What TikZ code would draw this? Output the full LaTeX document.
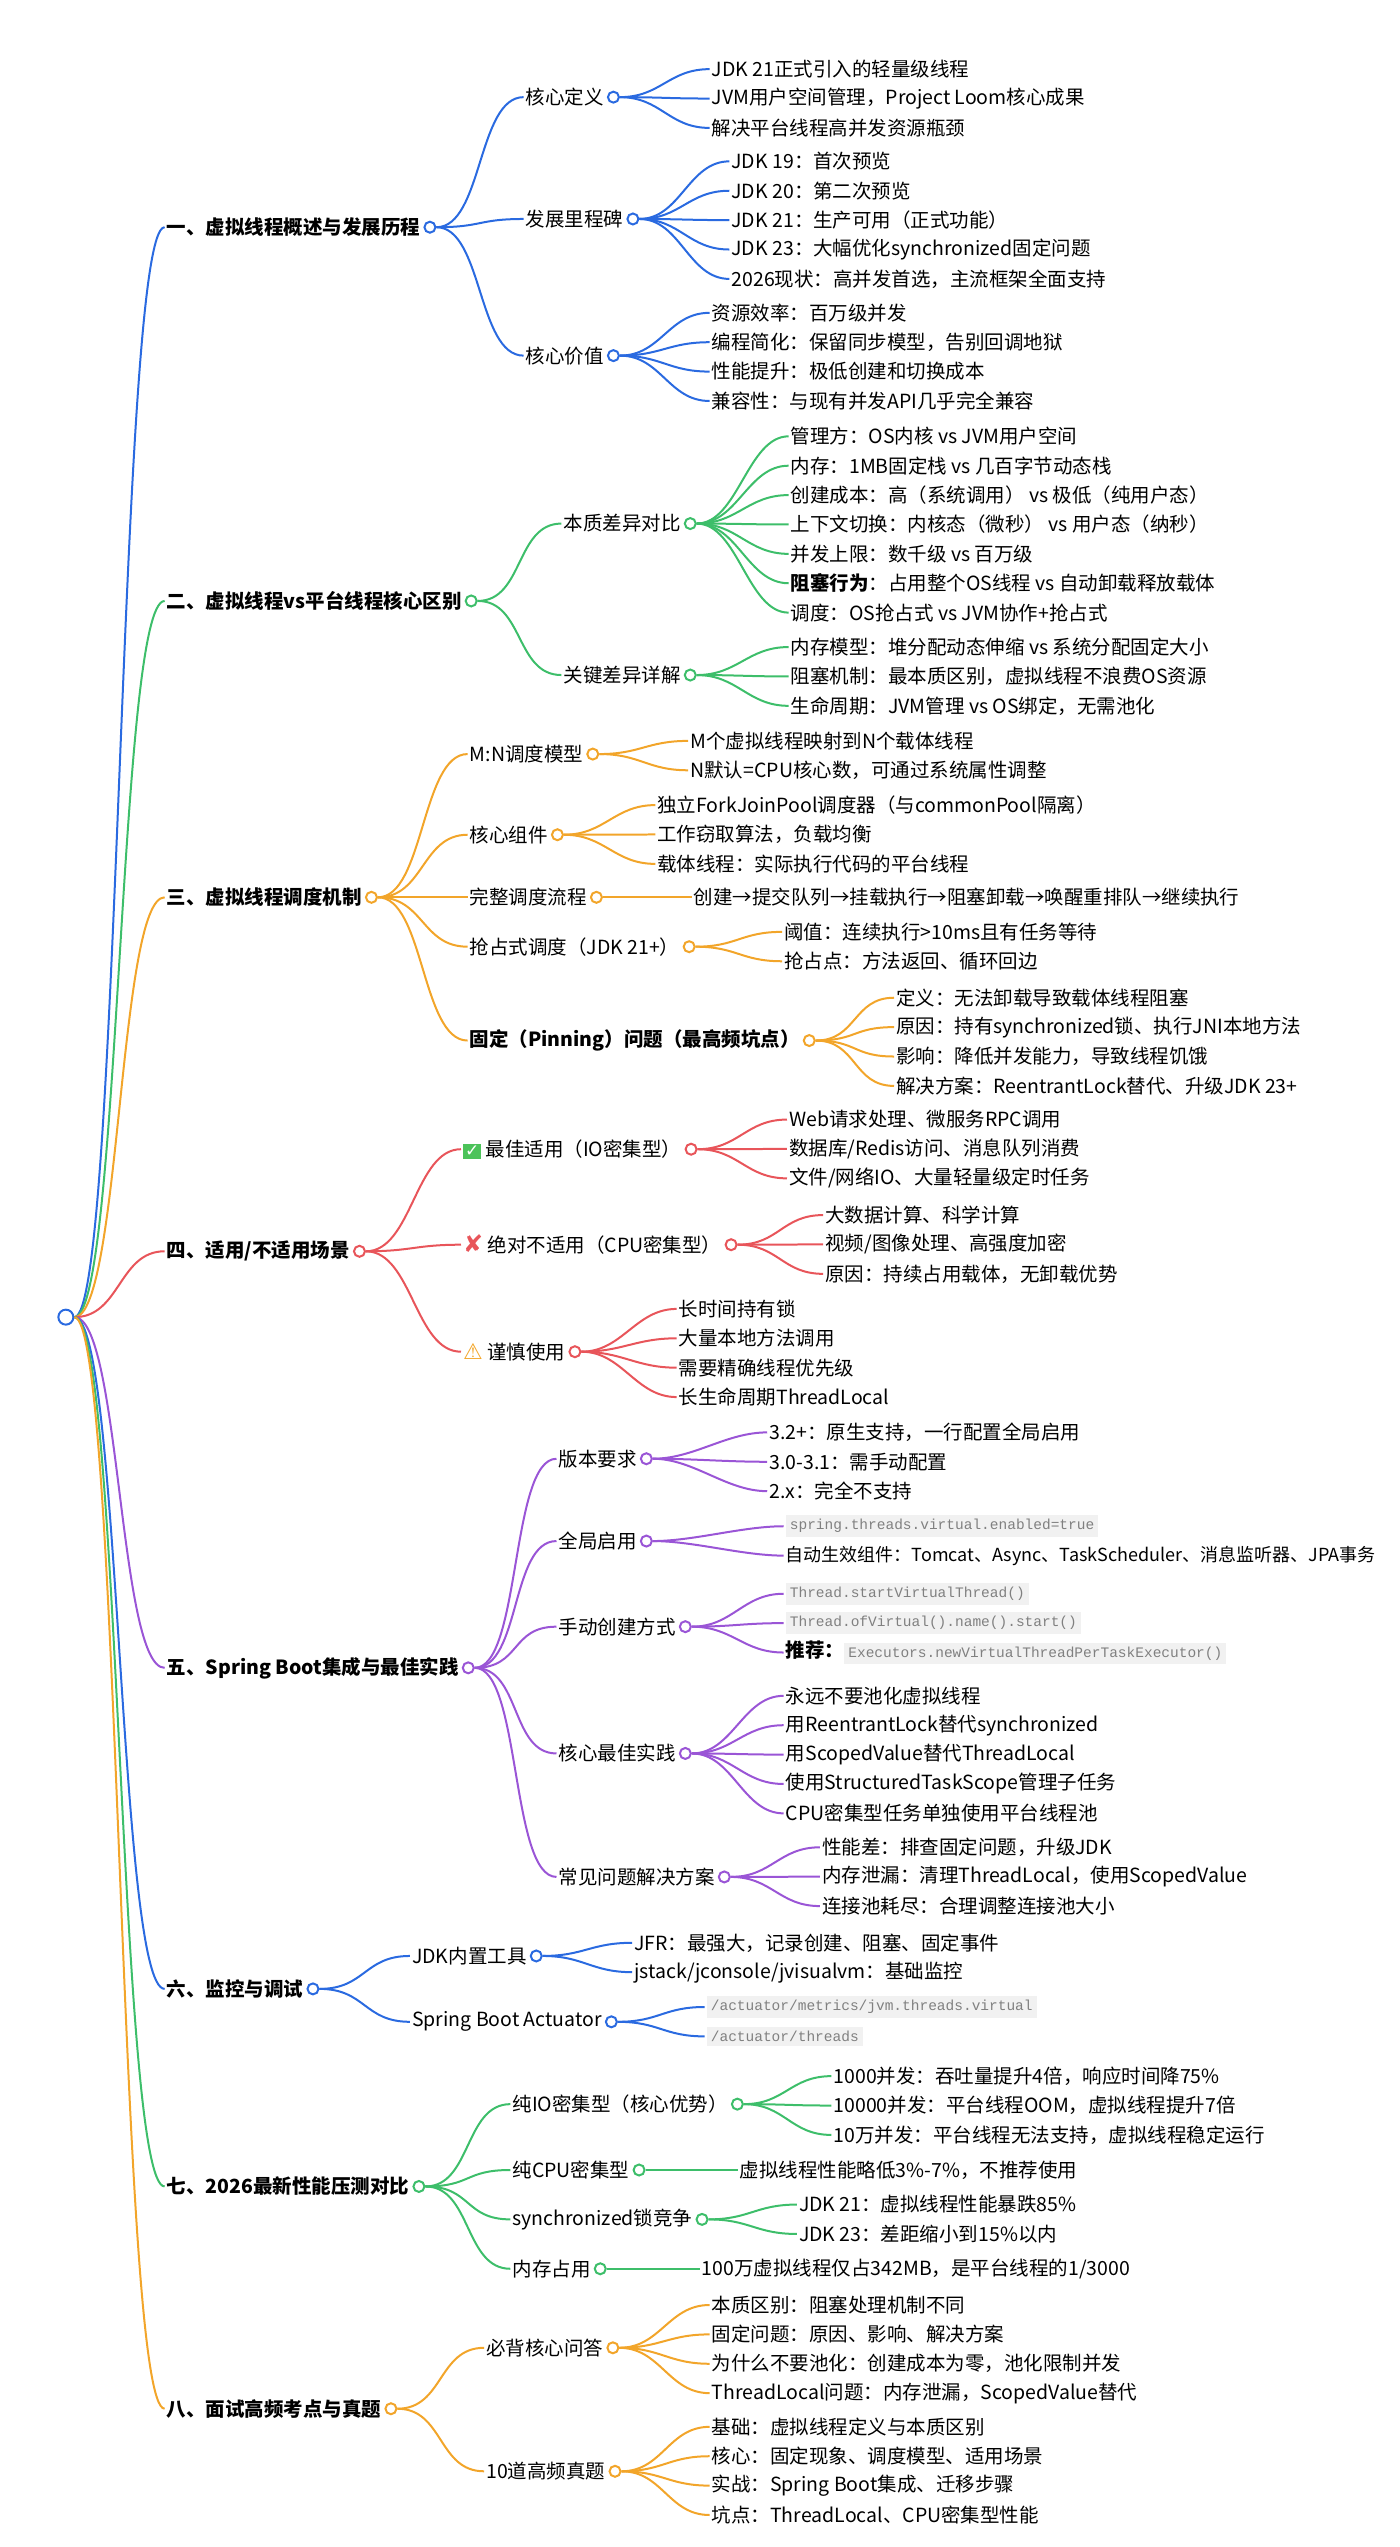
\documentclass[tikz,border=0pt]{standalone}
\usepackage{fontspec}
\setmainfont{Noto Sans CJK SC}
\newfontfamily\dejavu{DejaVu Sans}
\newfontfamily\codefont{Liberation Mono}
\usetikzlibrary{positioning}
\definecolor{mBlue}{HTML}{2A6AE0}
\definecolor{mGreen}{HTML}{3DBE6A}
\definecolor{mOrange}{HTML}{F2A52A}
\definecolor{mRed}{HTML}{E8555A}
\definecolor{mPurple}{HTML}{9A55D6}
\definecolor{codebg}{HTML}{F1F1F1}
\definecolor{okgreen}{HTML}{4CC35A}
\colorlet{cur}{mBlue}
\newcommand\code[1]{{\setlength{\fboxsep}{4bp}\colorbox{codebg}{\codefont\fontsize{14.5bp}{16bp}\selectfont\textcolor{gray}{#1}}}}
\newcommand\okicon{{\setlength{\fboxsep}{2bp}\colorbox{okgreen}{\dejavu\fontsize{17bp}{18bp}\selectfont\textcolor{white}{✓}}}}
\newcommand\noicon{{\dejavu\fontsize{24bp}{24bp}\selectfont\textcolor{mRed}{\textbf{✘}}}}
\newcommand\warnicon{{\dejavu\fontsize{22bp}{22bp}\selectfont\textcolor{mOrange}{⚠}}}
% leaves hanging off one dot: parent, x, first y, texts
\newcommand\leaves[4]{%
  \foreach \t [count=\i] in {#4}{
    \node (#1-\i) [leaf] at (#2,{#3+(\i-1)*17.85}) {\t};
    \draw [link] (#1.east) .. controls +(25,0) and +(-25,0) .. (#1-\i.west);
  }}
% one sub topic: name, x, y, text, parent dot
\newcommand\topic[5]{%
  \node (#1) [leaf] at (#2,#3) {#4};
  \node (o#1) [dot, right=1bp of #1] {};
  \draw [link] (#5.east) .. controls +(28,0) and +(-28,0) .. (#1.west);}
\begin{document}
\begin{tikzpicture}
  [
    x=1.6471bp, y=-1.6471bp,
    every node/.style={font=\fontsize{19.5bp}{24bp}\selectfont},
    leaf/.style={anchor=west, inner sep=2bp},
    sect/.style={anchor=west, inner sep=2bp, font=\fontsize{19.5bp}{24bp}\selectfont\bfseries},
    dot/.style={draw=cur, circle, fill=white, line width=2bp, minimum size=11bp, inner sep=0pt},
    link/.style={draw=cur, line width=2bp},
    trunk/.style={link, to path={.. controls +(28,0) and +(-28,0) .. (\tikztotarget)}}
  ]
  \useasboundingbox (0,0) rectangle (850,1547);
  \node (root) [dot, draw=mBlue, minimum size=15bp] at (40,800) {};

  % one
  \colorlet{cur}{mBlue}
  \node (s1) [sect] at (100,138) {一、虚拟线程概述与发展历程};
  \node (o1) [dot, right=1bp of s1] {};
  \draw [trunk] (root.east) to (s1.west);
  \topic{a1}{318}{59}{核心定义}{o1}
  \topic{a2}{318}{133}{发展里程碑}{o1}
  \topic{a3}{318}{216}{核心价值}{o1}
  \leaves{oa1}{431}{42}{JDK 21正式引入的轻量级线程, JVM用户空间管理，Project Loom核心成果, 解决平台线程高并发资源瓶颈}
  \leaves{oa2}{443}{98}{JDK 19：首次预览, JDK 20：第二次预览, JDK 21：生产可用（正式功能）, JDK 23：大幅优化synchronized固定问题, 2026现状：高并发首选，主流框架全面支持}
  \leaves{oa3}{431}{190}{资源效率：百万级并发, 编程简化：保留同步模型，告别回调地狱, 性能提升：极低创建和切换成本, 兼容性：与现有并发API几乎完全兼容}

  % two
  \colorlet{cur}{mGreen}
  \node (s2) [sect] at (100,365) {二、虚拟线程vs平台线程核心区别};
  \node (o2) [dot, right=1bp of s2] {};
  \draw [trunk] (root.east) to (s2.west);
  \topic{b1}{341}{318}{本质差异对比}{o2}
  \topic{b2}{341}{410}{关键差异详解}{o2}
  \leaves{ob1}{479}{265}{管理方：OS内核 vs JVM用户空间, 内存：1MB固定栈 vs 几百字节动态栈, 创建成本：高（系统调用） vs 极低（纯用户态）, 上下文切换：内核态（微秒） vs 用户态（纳秒）, 并发上限：数千级 vs 百万级, {\textbf{阻塞行为}：占用整个OS线程 vs 自动卸载释放载体}, 调度：OS抢占式 vs JVM协作+抢占式}
  \leaves{ob2}{479}{393}{内存模型：堆分配动态伸缩 vs 系统分配固定大小, 阻塞机制：最本质区别，虚拟线程不浪费OS资源, 生命周期：JVM管理 vs OS绑定，无需池化}

  % three
  \colorlet{cur}{mOrange}
  \node (s3) [sect] at (100,545) {三、虚拟线程调度机制};
  \node (o3) [dot, right=1bp of s3] {};
  \draw [trunk] (root.east) to (s3.west);
  \topic{c1}{284}{458}{M:N调度模型}{o3}
  \topic{c2}{284}{507}{核心组件}{o3}
  \topic{c3}{284}{545}{完整调度流程}{o3}
  \topic{c4}{284}{575}{抢占式调度（JDK 21+）}{o3}
  \node (c5) [sect] at (284,632) {固定（Pinning）问题（最高频坑点）};
  \node (oc5) [dot, right=1bp of c5] {};
  \draw [trunk] (o3.east) to (c5.west);
  \leaves{oc1}{418}{450}{M个虚拟线程映射到N个载体线程, N默认=CPU核心数，可通过系统属性调整}
  \leaves{oc2}{398}{489}{独立ForkJoinPool调度器（与commonPool隔离）, 工作窃取算法，负载均衡, 载体线程：实际执行代码的平台线程}
  \leaves{oc3}{420}{545}{创建→提交队列→挂载执行→阻塞卸载→唤醒重排队→继续执行}
  \leaves{oc4}{475}{566}{阈值：连续执行>10ms且有任务等待, 抢占点：方法返回、循环回边}
  \leaves{oc5}{543}{606}{定义：无法卸载导致载体线程阻塞, 原因：持有synchronized锁、执行JNI本地方法, 影响：降低并发能力，导致线程饥饿, 解决方案：ReentrantLock替代、升级JDK 23+}

  % four
  \colorlet{cur}{mRed}
  \node (s4) [sect] at (100,760) {四、适用/不适用场景};
  \node (o4) [dot, right=1bp of s4] {};
  \draw [trunk] (root.east) to (s4.west);
  \topic{d1}{280}{698}{\okicon\ 最佳适用（IO密集型）}{o4}
  \topic{d2}{280}{756}{\noicon\ 绝对不适用（CPU密集型）}{o4}
  \topic{d3}{280}{821}{\warnicon\ 谨慎使用}{o4}
  \leaves{od1}{478}{680}{Web请求处理、微服务RPC调用, 数据库/Redis访问、消息队列消费, 文件/网络IO、大量轻量级定时任务}
  \leaves{od2}{500}{738}{大数据计算、科学计算, 视频/图像处理、高强度加密, 原因：持续占用载体，无卸载优势}
  \leaves{od3}{411}{795}{长时间持有锁, 大量本地方法调用, 需要精确线程优先级, 长生命周期ThreadLocal}

  % five
  \colorlet{cur}{mPurple}
  \node (s5) [sect] at (100,1013) {五、Spring Boot集成与最佳实践};
  \node (o5) [dot, right=1bp of s5] {};
  \draw [trunk] (root.east) to (s5.west);
  \topic{e1}{338}{886}{版本要求}{o5}
  \topic{e2}{338}{936}{全局启用}{o5}
  \topic{e3}{338}{988}{手动创建方式}{o5}
  \topic{e4}{338}{1065}{核心最佳实践}{o5}
  \topic{e5}{338}{1140}{常见问题解决方案}{o5}
  \leaves{oe1}{466}{870}{3.2+：原生支持，一行配置全局启用, 3.0-3.1：需手动配置, 2.x：完全不支持}
  \leaves{oe2}{476}{927}{\code{spring.threads.virtual.enabled=true}, {\fontsize{18bp}{24bp}\selectfont 自动生效组件：Tomcat、Async、TaskScheduler、消息监听器、JPA事务}}
  \leaves{oe3}{476}{968}{\code{Thread.startVirtualThread()}, \code{Thread.ofVirtual().name().start()}, {\textbf{推荐：}\code{Executors.newVirtualThreadPerTaskExecutor()}}}
  \leaves{oe4}{476}{1030}{永远不要池化虚拟线程, 用ReentrantLock替代synchronized, 用ScopedValue替代ThreadLocal, 使用StructuredTaskScope管理子任务, CPU密集型任务单独使用平台线程池}
  \leaves{oe5}{498}{1122}{性能差：排查固定问题，升级JDK, 内存泄漏：清理ThreadLocal，使用ScopedValue, 连接池耗尽：合理调整连接池大小}

  % six
  \colorlet{cur}{mBlue}
  \node (s6) [sect] at (100,1208) {六、监控与调试};
  \node (o6) [dot, right=1bp of s6] {};
  \draw [trunk] (root.east) to (s6.west);
  \topic{f1}{249}{1188}{JDK内置工具}{o6}
  \topic{f2}{249}{1228}{Spring Boot Actuator}{o6}
  \leaves{of1}{384}{1180}{JFR：最强大，记录创建、阻塞、固定事件, jstack/jconsole/jvisualvm：基础监控}
  \leaves{of2}{428}{1219}{\code{/actuator/metrics/jvm.threads.virtual}, \code{/actuator/threads}}

  % seven
  \colorlet{cur}{mGreen}
  \node (s7) [sect] at (100,1328) {七、2026最新性能压测对比};
  \node (o7) [dot, right=1bp of s7] {};
  \draw [trunk] (root.east) to (s7.west);
  \topic{g1}{310}{1278}{纯IO密集型（核心优势）}{o7}
  \topic{g2}{310}{1318}{纯CPU密集型}{o7}
  \topic{g3}{310}{1348}{synchronized锁竞争}{o7}
  \topic{g4}{310}{1378}{内存占用}{o7}
  \leaves{og1}{505}{1261}{1000并发：吞吐量提升4倍，响应时间降75\%, 10000并发：平台线程OOM，虚拟线程提升7倍, 10万并发：平台线程无法支持，虚拟线程稳定运行}
  \leaves{og2}{448}{1318}{虚拟线程性能略低3\%-7\%，不推荐使用}
  \leaves{og3}{484}{1339}{JDK 21：虚拟线程性能暴跌85\%, JDK 23：差距缩小到15\%以内}
  \leaves{og4}{425}{1378}{100万虚拟线程仅占342MB，是平台线程的1/3000}

  % eight
  \colorlet{cur}{mOrange}
  \node (s8) [sect] at (100,1463) {八、面试高频考点与真题};
  \node (o8) [dot, right=1bp of s8] {};
  \draw [trunk] (root.east) to (s8.west);
  \topic{h1}{294}{1426}{必背核心问答}{o8}
  \topic{h2}{294}{1501}{10道高频真题}{o8}
  \leaves{oh1}{431}{1400}{本质区别：阻塞处理机制不同, 固定问题：原因、影响、解决方案, 为什么不要池化：创建成本为零，池化限制并发, ThreadLocal问题：内存泄漏，ScopedValue替代}
  \leaves{oh2}{431}{1474}{基础：虚拟线程定义与本质区别, 核心：固定现象、调度模型、适用场景, 实战：Spring Boot集成、迁移步骤, 坑点：ThreadLocal、CPU密集型性能}
\end{tikzpicture}
\end{document}
